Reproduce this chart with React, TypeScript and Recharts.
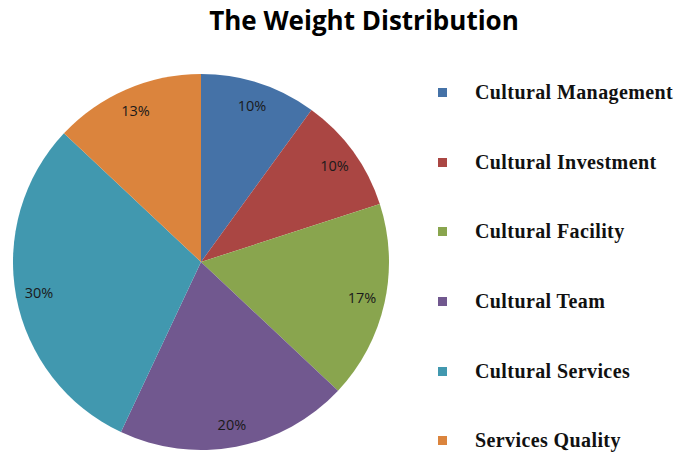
import { PieChart, Pie, Cell, Legend } from 'recharts'

const categories = [
  'Cultural Management',
  'Cultural Investment',
  'Cultural Facility',
  'Cultural Team',
  'Cultural Services',
  'Services Quality',
]
const weights = [10, 10, 17, 20, 30, 13]
const colors = ['#4572A7', '#AA4643', '#89A54E', '#71588F', '#4198AF', '#DB843D']

const data = categories.map((name, i) => ({ name, value: weights[i] }))

const RAD = Math.PI / 180

function renderLabel(props: any) {
  const { cx, cy, midAngle, value } = props
  const r = 165
  const x = cx + r * Math.cos(-midAngle * RAD)
  const y = cy + r * Math.sin(-midAngle * RAD)
  return (
    <text x={x} y={y} fill="#1a1a1a" fontSize={14.5} fontFamily="'Open Sans', sans-serif" textAnchor="middle" dominantBaseline="central">
      {value}%
    </text>
  )
}

function LegendList(props: any) {
  const items = [...(props.payload || [])].sort(
    (a: any, b: any) => categories.indexOf(a.value) - categories.indexOf(b.value)
  )
  return (
    <div>
      {items.map((p: any, i: number) => (
        <div key={i} style={{ display: 'flex', alignItems: 'center', height: 69.6 }}>
          <div style={{ width: 9, height: 9, background: p.color, marginRight: 28 }} />
          <span
            style={{
              fontFamily: "'Liberation Serif', serif",
              fontWeight: 700,
              fontSize: 20,
              letterSpacing: 0.4,
              color: '#111',
            }}
          >
            {p.value}
          </span>
        </div>
      ))}
    </div>
  )
}

export default function App() {
  return (
    <div style={{ position: 'absolute', left: 0, top: 0, width: 678, height: 452, background: '#fff' }}>
      <div
        style={{
          position: 'absolute',
          left: 0,
          top: 2,
          width: 728,
          textAlign: 'center',
          fontFamily: "'Open Sans', sans-serif",
          fontWeight: 700,
          fontSize: 26,
          color: '#000',
        }}
      >
        The Weight Distribution
      </div>
      <PieChart width={678} height={452} margin={{ top: 0, right: 0, bottom: 0, left: 0 }}>
        <Pie
          data={data}
          dataKey="value"
          nameKey="name"
          cx={201}
          cy={262}
          outerRadius={188}
          startAngle={90}
          endAngle={-270}
          stroke="none"
          label={renderLabel}
          labelLine={false}
          isAnimationActive={false}
        >
          {data.map((_, i) => (
            <Cell key={i} fill={colors[i]} />
          ))}
        </Pie>
        <Legend
          layout="vertical"
          content={<LegendList />}
          wrapperStyle={{ left: 438, top: 58, width: 240 }}
        />
      </PieChart>
    </div>
  )
}
